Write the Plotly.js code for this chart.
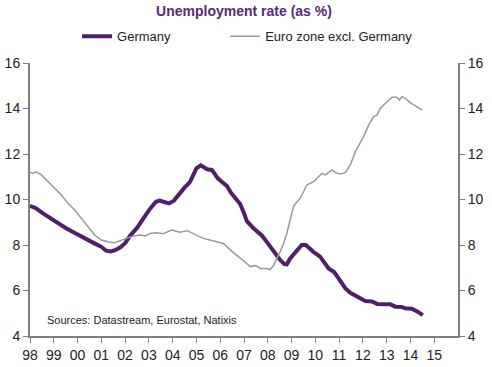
<!DOCTYPE html>
<html>
<head>
<meta charset="utf-8">
<script src="https://cdn.plot.ly/plotly-3.0.1.min.js"></script>
<style>html,body{margin:0;padding:0;background:#fff;}#chart{width:492px;height:367px;}</style>
</head>
<body>
<div id="chart"></div>
<script>
var germanyX = [1998.0,1998.25,1998.5,1998.75,1999.0,1999.25,1999.5,1999.75,2000.0,2000.25,2000.5,2000.75,2001.0,2001.2,2001.4,2001.6,2001.8,2002.0,2002.2,2002.5,2002.77,2003.05,2003.3,2003.45,2003.6,2003.85,2004.05,2004.3,2004.5,2004.73,2005.0,2005.18,2005.3,2005.45,2005.65,2005.9,2006.1,2006.28,2006.45,2006.63,2006.84,2007.0,2007.12,2007.4,2007.6,2007.75,2007.95,2008.1,2008.3,2008.52,2008.7,2008.8,2008.94,2009.22,2009.43,2009.6,2009.75,2009.92,2010.2,2010.4,2010.56,2010.8,2010.95,2011.05,2011.26,2011.47,2011.75,2011.95,2012.1,2012.38,2012.6,2012.9,2013.15,2013.36,2013.64,2013.78,2014.06,2014.3,2014.52];
var germanyY = [9.72,9.62,9.42,9.25,9.05,8.9,8.75,8.6,8.45,8.32,8.2,8.05,7.92,7.75,7.72,7.78,7.9,8.08,8.4,8.75,9.17,9.6,9.9,9.95,9.9,9.83,9.95,10.29,10.52,10.78,11.37,11.5,11.4,11.33,11.3,10.93,10.75,10.6,10.3,10.05,9.8,9.4,9.05,8.73,8.55,8.42,8.15,7.93,7.7,7.34,7.16,7.15,7.41,7.78,8.0,8.0,7.85,7.7,7.49,7.2,6.97,6.8,6.55,6.39,6.1,5.9,5.76,5.62,5.54,5.52,5.41,5.4,5.4,5.29,5.28,5.22,5.2,5.07,4.92];
var euroX = [1998.0,1998.1,1998.25,1998.48,1998.76,1999.04,1999.32,1999.6,1999.88,2000.16,2000.44,2000.72,2001.0,2001.28,2001.56,2001.77,2002.05,2002.3,2002.63,2002.85,2003.05,2003.33,2003.6,2003.96,2004.15,2004.3,2004.62,2004.87,2005.1,2005.3,2005.71,2006.13,2006.49,2006.84,2007.05,2007.26,2007.5,2007.68,2007.96,2008.1,2008.24,2008.38,2008.52,2008.66,2008.8,2008.94,2009.08,2009.15,2009.36,2009.5,2009.64,2009.92,2010.13,2010.28,2010.42,2010.7,2010.84,2011.05,2011.26,2011.47,2011.68,2011.89,2012.03,2012.24,2012.45,2012.59,2012.73,2012.94,2013.08,2013.22,2013.43,2013.54,2013.64,2013.78,2013.99,2014.2,2014.49];
var euroY = [11.2,11.15,11.22,11.08,10.78,10.49,10.2,9.83,9.54,9.17,8.8,8.44,8.22,8.14,8.1,8.19,8.29,8.38,8.44,8.4,8.51,8.54,8.5,8.66,8.6,8.56,8.63,8.48,8.38,8.29,8.19,8.07,7.72,7.45,7.25,7.05,7.1,6.97,6.97,6.92,7.1,7.41,7.7,8.07,8.51,9.1,9.68,9.8,10.05,10.34,10.64,10.78,11.0,11.15,11.08,11.3,11.18,11.12,11.18,11.52,12.1,12.47,12.76,13.27,13.64,13.71,14.0,14.22,14.37,14.49,14.49,14.37,14.52,14.45,14.26,14.11,13.93];
var yearTicks = [1998,1999,2000,2001,2002,2003,2004,2005,2006,2007,2008,2009,2010,2011,2012,2013,2014,2015];
var yearLabels = ['98','99','00','01','02','03','04','05','06','07','08','09','10','11','12','13','14','15'];
var yTicks = [4,6,8,10,12,14,16];

var font = 'Liberation Sans, Arial, sans-serif';
var traces = [
  {x: germanyX, y: germanyY, name: 'Germany', type: 'scatter', mode: 'lines',
   line: {color: '#4f1f6b', width: 4}, xaxis: 'x', yaxis: 'y', legend: 'legend'},
  {x: euroX, y: euroY, name: 'Euro zone excl. Germany', type: 'scatter', mode: 'lines',
   line: {color: '#999999', width: 1.5}, xaxis: 'x', yaxis: 'y2', legend: 'legend2'}
];
var axisCommon = {
  range: [4, 16], tickvals: yTicks, ticks: 'outside', ticklen: 5, tickcolor: '#808080',
  showline: true, linecolor: '#808080', linewidth: 2, showgrid: false, zeroline: false,
  tickfont: {family: font, size: 14, color: '#222'}, fixedrange: true
};
var legendCommon = {orientation: 'h', xanchor: 'left', y: 1.098, yanchor: 'middle',
  font: {family: font, size: 13, color: '#222'}, bgcolor: 'rgba(0,0,0,0)'};
var layout = {
  width: 492, height: 367,
  margin: {l: 30, r: 34, t: 63, b: 31, autoexpand: false},
  paper_bgcolor: '#fff', plot_bgcolor: '#fff',
  title: {text: '<b>Unemployment rate (as %)</b>', x: 0.5, xref: 'paper', xanchor: 'center',
          y: 0.97, yanchor: 'middle', font: {family: font, size: 14, color: '#5a2a72'}},
  showlegend: true,
  legend: Object.assign({}, legendCommon, {x: 0.11}),
  legend2: Object.assign({}, legendCommon, {x: 0.456}),
  xaxis: {range: [1998, 2016], tickvals: yearTicks, ticktext: yearLabels, ticks: 'outside',
          ticklen: 5, tickcolor: '#808080', showline: true, linecolor: '#808080', linewidth: 2,
          showgrid: false, zeroline: false, tickfont: {family: font, size: 14, color: '#222'},
          fixedrange: true},
  yaxis: Object.assign({}, axisCommon, {side: 'left'}),
  yaxis2: Object.assign({}, axisCommon, {side: 'right', overlaying: 'y'}),
  annotations: [
    {text: 'Sources: Datastream, Eurostat, Natixis', xref: 'paper', yref: 'paper',
     x: 0.035, y: 0.06, xanchor: 'left', yanchor: 'middle', showarrow: false,
     font: {family: font, size: 11, color: '#222'}}
  ]
};
Plotly.newPlot('chart', traces, layout, {displayModeBar: false, staticPlot: true});
</script>
</body>
</html>
